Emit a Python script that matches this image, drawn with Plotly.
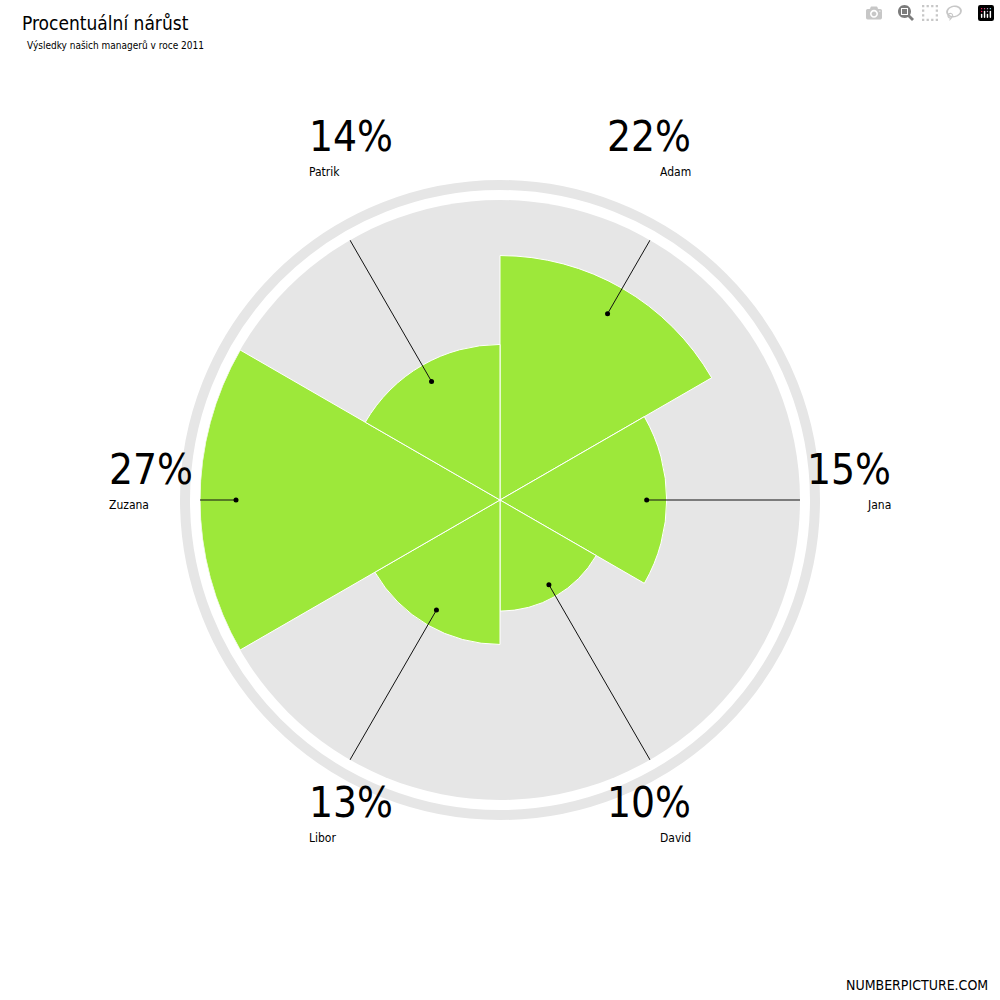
import math
import plotly.graph_objects as go

names = ["Adam", "Jana", "David", "Libor", "Zuzana", "Patrik"]
values = [22, 15, 10, 13, 27, 14]
angles = [30, 90, 150, 210, 270, 330]
labels = ["22%", "15%", "10%", "13%", "27%", "14%"]

RMAX = 27
FONT = "DejaVu Sans Condensed, Liberation Sans Narrow, sans-serif"

fig = go.Figure()
fig.add_trace(go.Barpolar(r=values, theta=angles, width=[60]*6,
                          marker=dict(color="#9de83a", line=dict(color="white", width=1)),
                          hoverinfo="skip"))

for v, a in zip(values, angles):
    fig.add_trace(go.Scatterpolar(r=[v*0.88, RMAX*335/300], theta=[a, a], mode="lines",
                                  line=dict(color="#111", width=1), cliponaxis=False,
                                  hoverinfo="skip"))
fig.add_trace(go.Scatterpolar(r=[v*0.88 for v in values], theta=angles, mode="markers",
                              marker=dict(color="black", size=5), cliponaxis=False,
                              hoverinfo="skip"))

annotations = []
for n, lab, a in zip(names, labels, angles):
    rad = math.radians(a)
    rp = 393 if a in (90, 270) else 385
    x = 0.5 + rp*math.sin(rad)/1000
    y = 0.5 + rp*math.cos(rad)/1000
    annotations.append(dict(x=x, y=y+0.004, xref="paper", yref="paper", text=lab,
                            showarrow=False, font=dict(family=FONT, size=42, color="black"),
                            yanchor="bottom"))
    annotations.append(dict(x=x, y=y+0.004, xref="paper", yref="paper", text=n,
                            showarrow=False, font=dict(family=FONT, size=12, color="black"),
                            yanchor="top"))
annotations += [
    dict(x=0.02, y=0.99, xref="paper", yref="paper", text="Procentuální nárůst", showarrow=False,
         xanchor="left", yanchor="top", font=dict(family=FONT, size=19, color="black")),
    dict(x=0.025, y=0.962, xref="paper", yref="paper", text="Výsledky našich managerů v roce 2011",
         showarrow=False, xanchor="left", yanchor="top", font=dict(family=FONT, size=10, color="black")),
    dict(x=0.99, y=0.005, xref="paper", yref="paper", text="NUMBERPICTURE.COM", showarrow=False,
         xanchor="right", yanchor="bottom", font=dict(family=FONT, size=14, color="black")),
]

fig.update_layout(
    width=1000, height=1000, margin=dict(l=0, r=0, t=0, b=0),
    paper_bgcolor="white", showlegend=False,
    polar=dict(domain=dict(x=[0.2, 0.8], y=[0.2, 0.8]), bgcolor="#e6e6e6",
               radialaxis=dict(range=[0, RMAX], visible=False, showgrid=False),
               angularaxis=dict(direction="clockwise", rotation=90, visible=False, showgrid=False)),
    annotations=annotations,
    shapes=[dict(type="circle", xref="paper", yref="paper", x0=0.5-0.315, x1=0.5+0.315,
                 y0=0.5-0.315, y1=0.5+0.315, line=dict(color="#e6e6e6", width=10), layer="below")],
)
fig.write_html("out.html",
               post_script="document.body.style.margin='0';document.body.style.overflow='hidden';")
